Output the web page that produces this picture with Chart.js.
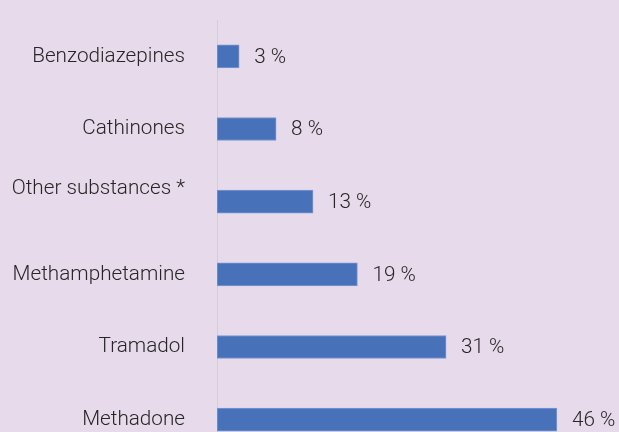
<!DOCTYPE html>
<html lang="en">
<head>
  <meta charset="UTF-8" />
  <title>Substances</title>
  <script src="https://cdn.jsdelivr.net/npm/chart.js"></script>
  <style>
    html, body {
      margin: 0;
      padding: 0;
      background: #e7daeb;
      overflow: hidden;
    }
    #wrap {
      position: relative;
      width: 619px;
      height: 470px;
    }
  </style>
</head>
<body>
  <div id="wrap">
    <canvas id="chart"></canvas>
  </div>

  <script>
    // categories, top to bottom
    const categories = [
      "Benzodiazepines",
      "Cathinones",
      ["Other substances *", ""],
      "Methamphetamine",
      "Tramadol",
      "Methadone"
    ];
    const shares = [3, 8, 13, 19, 31, 46];
    const valueLabels = ["3 %", "8 %", "13 %", "19 %", "31 %", "46 %"];

    const textColor = "#262626";
    const font = { family: "Roboto", size: 20.7, weight: 300 };

    // writes the % next to each bar end
    const valueLabelPlugin = {
      id: "valueLabels",
      afterDatasetsDraw(chart) {
        const ctx = chart.ctx;
        const meta = chart.getDatasetMeta(0);
        ctx.save();
        ctx.fillStyle = textColor;
        ctx.font = `${font.weight} ${font.size}px ${font.family}`;
        ctx.textAlign = "left";
        ctx.textBaseline = "middle";
        meta.data.forEach((bar, i) => {
          ctx.fillText(valueLabels[i], bar.x + 15, bar.y + 1);
        });
        ctx.restore();
      }
    };

    new Chart(document.getElementById("chart"), {
      type: "bar",
      data: {
        labels: categories,
        datasets: [{
          data: shares,
          backgroundColor: "#4771b9",
          borderColor: "#7d99d2",
          borderWidth: 1,
          borderSkipped: false,
          barThickness: 23
        }]
      },
      options: {
        indexAxis: "y",
        responsive: true,
        maintainAspectRatio: false,
        animation: false,
        layout: { padding: { top: 20, bottom: 14, left: 0, right: 0 } },
        plugins: {
          legend: { display: false },
          tooltip: { enabled: false }
        },
        scales: {
          x: {
            display: false,
            min: 0,
            max: 54.4
          },
          y: {
            afterFit(scale) {
              scale.width = 217;
              scale.paddingTop = 0;
              scale.paddingBottom = 0;
            },
            grid: { display: false, drawTicks: false },
            border: { display: true, color: "#d3cfd6", width: 1 },
            ticks: {
              color: textColor,
              font: font,
              padding: 32
            }
          }
        }
      },
      plugins: [valueLabelPlugin]
    });
  </script>
</body>
</html>
